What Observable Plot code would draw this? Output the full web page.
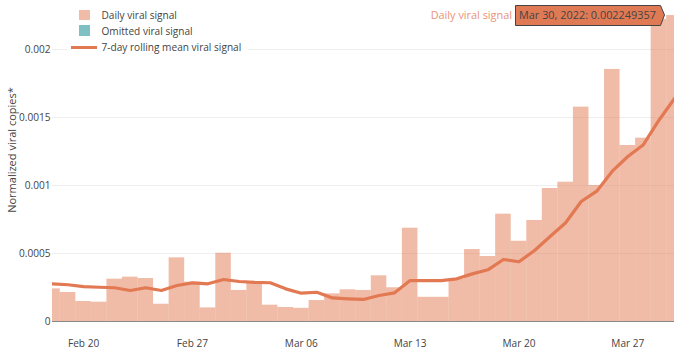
<!DOCTYPE html>
<html>
<head>
<meta charset="utf-8">
<script src="https://cdn.jsdelivr.net/npm/d3@7"></script>
<script src="https://cdn.jsdelivr.net/npm/@observablehq/plot@0.6"></script>
<style>
  html, body { margin: 0; padding: 0; background: #fff; }
  #wrap { position: relative; width: 675px; height: 352px; font-family: "Open Sans", sans-serif; color: #444; overflow: hidden; }
  #ytitle { position: absolute; left: 11.5px; top: 150px; transform: translate(-50%, -50%) rotate(-90deg); white-space: nowrap; font-size: 11px; line-height: 12px; color: #444; }
  #legend { position: absolute; left: 68px; top: 0px; width: 180px; height: 56px; background: #fff; font-size: 10.1px; }
  .item { position: absolute; left: 33.5px; white-space: nowrap; line-height: 11px; transform: translateY(-50%); }
  .sw { position: absolute; }
  #overlay { position: absolute; left: 0; top: 0; }
</style>
</head>
<body>
<div id="wrap"></div>
<script>
// ---- data ----
const dates = [
  "2022-02-18","2022-02-19","2022-02-20","2022-02-21","2022-02-22","2022-02-23","2022-02-24",
  "2022-02-25","2022-02-26","2022-02-27","2022-02-28","2022-03-01","2022-03-02","2022-03-03",
  "2022-03-04","2022-03-05","2022-03-06","2022-03-07","2022-03-08","2022-03-09","2022-03-10",
  "2022-03-11","2022-03-12","2022-03-13","2022-03-14","2022-03-15","2022-03-16","2022-03-17",
  "2022-03-18","2022-03-19","2022-03-20","2022-03-21","2022-03-22","2022-03-23","2022-03-24",
  "2022-03-25","2022-03-26","2022-03-27","2022-03-28","2022-03-29","2022-03-30"
];
const dailySignal = [
  0.00024, 0.000213, 0.000147, 0.000142, 0.000311, 0.000326, 0.000316,
  0.000127, 0.000468, 0.000289, 0.0001, 0.000502, 0.000228, 0.00029,
  0.00012, 0.000103, 0.000097, 0.000154, 0.000203, 0.000233, 0.000228,
  0.000336, 0.000248, 0.000686, 0.000178, 0.000178, 0.000312, 0.000529,
  0.000478, 0.000789, 0.00059, 0.000743, 0.000978, 0.001024, 0.001576,
  0.001, 0.001853, 0.001294, 0.001348, 0.00222, 0.002249357
];
const rollingMean = [
  0.000277, 0.00027, 0.000257, 0.000252, 0.000248, 0.000228, 0.000248,
  0.000228, 0.000265, 0.000284, 0.000277, 0.000309, 0.000294, 0.000287,
  0.000285, 0.00024, 0.000208, 0.000215, 0.000173, 0.000167, 0.000162,
  0.000191, 0.000211, 0.000301, 0.000301, 0.000301, 0.000314, 0.00035,
  0.00038, 0.000456, 0.000439, 0.000522, 0.000625, 0.000726, 0.000882,
  0.000958, 0.001105, 0.001213, 0.0013, 0.00148, 0.00164
];
const xTickDates = ["2022-02-20","2022-02-27","2022-03-06","2022-03-13","2022-03-20","2022-03-27"];
const yTicks = [0, 0.0005, 0.001, 0.0015, 0.002];
const seriesNames = ["Daily viral signal", "Omitted viral signal", "7-day rolling mean viral signal"];
const yTitle = "Normalized viral copies*";
const hoverIndex = 40;

// ---- build ----
const lineColor = "rgb(226,121,82)";
const barColor = "rgb(226,121,82)";
const omitColor = "rgb(127,193,195)";
const HALF_DAY = 12 * 3600 * 1000;

const data = dates.map((d, i) => ({
  date: new Date(d + "T00:00:00Z"),
  daily: dailySignal[i],
  mean: rollingMean[i]
}));

const chart = Plot.plot({
  width: 675,
  height: 352,
  marginLeft: 52,
  marginRight: 1,
  marginTop: 0,
  marginBottom: 31,
  style: { fontFamily: "Open Sans, sans-serif", fontSize: "10.1px", color: "#444", background: "transparent" },
  x: {
    type: "utc",
    domain: [new Date(dates[0] + "T00:00:00Z"), new Date(dates[dates.length - 1] + "T00:00:00Z")],
    ticks: xTickDates.map(d => new Date(d + "T00:00:00Z")),
    tickFormat: d3.utcFormat("%b %d"),
    tickSize: 0,
    tickPadding: 18.5,
    label: null
  },
  y: {
    domain: [0, 0.00236],
    ticks: yTicks,
    tickFormat: d => d === 0 ? "0" : String(d),
    tickSize: 0,
    tickPadding: 2,
    label: null
  },
  marks: [
    Plot.ruleY(yTicks.filter(t => t > 0), { stroke: "#eee", strokeWidth: 1 }),
    Plot.rectY(data, {
      x1: d => new Date(+d.date - HALF_DAY),
      x2: d => new Date(+d.date + HALF_DAY),
      y: "daily",
      fill: barColor,
      fillOpacity: 0.5,
      clip: true
    }),
    Plot.ruleY([0], { stroke: "#888", strokeWidth: 1 }),
    Plot.line(data, { x: "date", y: "mean", stroke: lineColor, strokeWidth: 3.2, strokeLinejoin: "round", clip: true })
  ]
});

const wrap = document.getElementById("wrap");
wrap.appendChild(chart);

// y-axis title
const yt = document.createElement("div");
yt.id = "ytitle";
yt.textContent = yTitle;
wrap.appendChild(yt);

// legend
const legend = document.createElement("div");
legend.id = "legend";
const rows = [15, 30.5, 47];
seriesNames.forEach((name, i) => {
  const sw = document.createElement("div");
  sw.className = "sw";
  if (i === 0) { Object.assign(sw.style, { left: "11px", top: "9.5px", width: "10.5px", height: "10.5px", background: barColor, opacity: 0.5 }); }
  if (i === 1) { Object.assign(sw.style, { left: "11px", top: "25px", width: "10.5px", height: "10.5px", background: omitColor }); }
  if (i === 2) { Object.assign(sw.style, { left: "3px", top: "45.5px", width: "26px", height: "3px", background: lineColor }); }
  legend.appendChild(sw);
  const t = document.createElement("div");
  t.className = "item";
  t.style.top = rows[i] + "px";
  t.textContent = name;
  legend.appendChild(t);
});
wrap.appendChild(legend);

// hover label
const hv = data[hoverIndex];
const svg = d3.create("svg").attr("id", "overlay").attr("width", 675).attr("height", 40);
svg.append("path")
  .attr("d", "M515.5,5.5H660.5L664.5,15L660.5,25.5H515.5Z")
  .attr("fill", "rgb(224,122,84)")
  .attr("stroke", "#444")
  .attr("stroke-width", 1);
svg.append("text")
  .attr("x", 519).attr("y", 19)
  .attr("font-family", "Open Sans, sans-serif").attr("font-size", 10.9)
  .attr("fill", "#444")
  .text(d3.utcFormat("%b %d, %Y")(hv.date) + ": " + hv.daily);
svg.append("text")
  .attr("x", 512).attr("y", 19)
  .attr("text-anchor", "end")
  .attr("font-family", "Open Sans, sans-serif").attr("font-size", 10.9)
  .attr("fill", "rgb(234,146,116)")
  .text(seriesNames[0]);
wrap.appendChild(svg.node());
</script>
</body>
</html>
